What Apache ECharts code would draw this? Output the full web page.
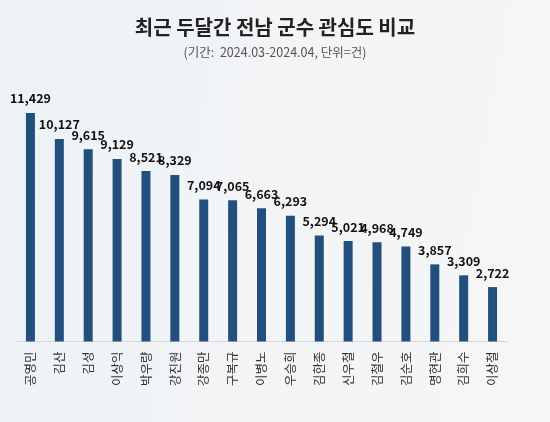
<!DOCTYPE html>
<html>
<head>
<meta charset="utf-8">
<script src="https://cdn.jsdelivr.net/npm/echarts@6/dist/echarts.min.js"></script>
<style>
html,body{margin:0;padding:0;}
body{background:linear-gradient(100deg,#edf2f7 0%,#f2f4f6 45%,#f6f6f6 100%);}
#c{width:550px;height:422px;}
</style>
</head>
<body>
<div id="c"></div>
<script>
const categories = ['공영민','김산','김성','이상익','박우량','강진원','강종만','구복규','이병노','우승희','김한종','신우철','김철우','김순호','명현관','김희수','이상철'];
const values = [11429,10127,9615,9129,8521,8329,7094,7065,6663,6293,5294,5021,4968,4749,3857,3309,2722];
const titleText = '최근 두달간 전남 군수 관심도 비교';
const subtitleText = '(기간:  2024.03-2024.04, 단위=건)';

const chart = echarts.init(document.getElementById('c'));
const font = '"Noto Sans CJK KR","Noto Sans",sans-serif';
chart.setOption({
  backgroundColor: 'transparent',
  animation: false,
  title: {
    text: titleText,
    subtext: subtitleText,
    left: 'center',
    top: 12,
    itemGap: 9,
    textStyle: {fontFamily: font, fontSize: 20, fontWeight: 'bold', color: '#222'},
    subtextStyle: {fontFamily: font, fontSize: 12.5, color: '#555'}
  },
  grid: {left: 16, right: 43, top: 101.5, bottom: 80.5, containLabel: false},
  xAxis: {
    type: 'category',
    data: categories,
    axisLine: {lineStyle: {color: '#d6d9dc', width: 1}},
    axisTick: {show: false},
    axisLabel: {rotate: 90, interval: 0, margin: 10, fontFamily: font, fontSize: 12.5, color: '#333'}
  },
  yAxis: {
    type: 'value',
    min: 0,
    max: 12000,
    show: false,
    splitLine: {show: false}
  },
  series: [{
    type: 'bar',
    data: values,
    barWidth: 9,
    itemStyle: {color: '#22507e'},
    label: {
      show: true,
      position: 'top',
      distance: 8,
      fontFamily: font,
      fontSize: 12.5,
      fontWeight: 'bold',
      color: '#111',
      formatter: p => p.value.toLocaleString('en-US')
    }
  }]
});
</script>
</body>
</html>
